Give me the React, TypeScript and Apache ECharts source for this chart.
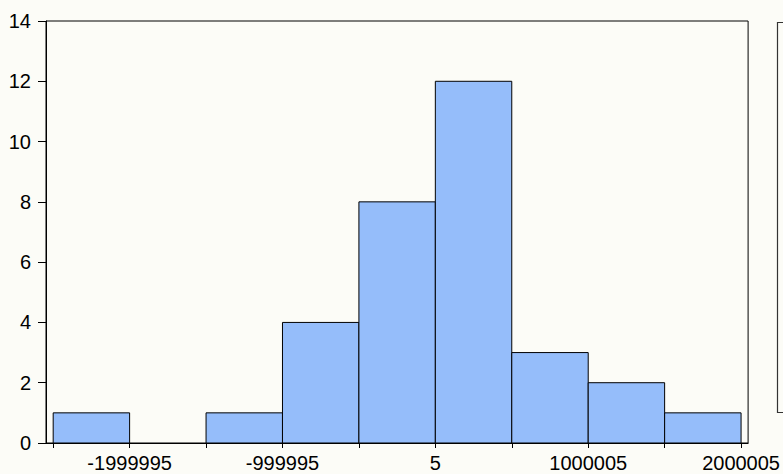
import React, { useEffect, useRef } from "react";
import * as echarts from "echarts";

const binWidth = 500000;
const binStarts = [-2499995, -1999995, -1499995, -999995, -499995, 5, 500005, 1000005, 1500005];
const counts = [1, 0, 1, 4, 8, 12, 3, 2, 1];
const tickValues = [-2499995, -1999995, -1499995, -999995, -499995, 5, 500005, 1000005, 1500005, 2000005];
const labelValues = [-1999995, -999995, 5, 1000005, 2000005];
const yTicks = [0, 2, 4, 6, 8, 10, 12, 14];

export default function App() {
  const ref = useRef<HTMLDivElement>(null);
  useEffect(() => {
    const chart = echarts.init(ref.current!, null, { renderer: "svg" });
    const data = binStarts.map((s, i) => [s, s + binWidth, counts[i]]);
    const font = "'Liberation Sans', Arial, sans-serif";
    chart.setOption({
      animation: false,
      backgroundColor: "#fcfcf7",
      grid: {
        left: 46,
        top: 21,
        right: 34,
        bottom: 31,
        show: true,
        borderColor: "#000",
        borderWidth: 1,
        backgroundColor: "transparent",
      },
      xAxis: {
        type: "value",
        min: -2547000,
        max: 2046000,
        splitLine: { show: false },
        axisLine: { show: true, onZero: false, lineStyle: { color: "#000", width: 1 } },
        axisTick: {
          show: true,
          length: 5,
          lineStyle: { color: "#000" },
          customValues: tickValues,
        },
        axisLabel: {
          customValues: labelValues,
          color: "#000",
          fontSize: 20,
          fontFamily: font,
          margin: 10,
          formatter: (v: number) => String(Math.round(v)),
        },
      },
      yAxis: {
        type: "value",
        min: 0,
        max: 14,
        interval: 2,
        splitLine: { show: false },
        axisLine: { show: true, onZero: false, lineStyle: { color: "#000", width: 1 } },
        axisTick: { show: true, length: 8, lineStyle: { color: "#000" }, customValues: yTicks },
        axisLabel: {
          customValues: yTicks,
          color: "#000",
          fontSize: 20,
          fontFamily: font,
          margin: 15,
        },
      },
      series: [
        {
          type: "custom",
          data,
          encode: { x: [0, 1], y: 2 },
          renderItem: (params: any, api: any) => {
            const x0 = api.value(0);
            const x1 = api.value(1);
            const c = api.value(2);
            if (!c) return null;
            const p0 = api.coord([x0, c]);
            const p1 = api.coord([x1, 0]);
            return {
              type: "rect",
              shape: { x: p0[0], y: p0[1], width: p1[0] - p0[0], height: p1[1] - p0[1] },
              style: { fill: "#95bdfa", stroke: "#000", lineWidth: 1 },
            };
          },
        },
      ],
      graphic: [
        {
          type: "rect",
          shape: { x: 777.5, y: 22.5, width: 30, height: 390 },
          style: { fill: "transparent", stroke: "#333", lineWidth: 1.2 },
          z: 10,
        },
      ],
    });
    return () => chart.dispose();
  }, []);
  return (
    <div
      ref={ref}
      style={{ position: "fixed", left: 0, top: 0, width: 783, height: 474 }}
    />
  );
}
